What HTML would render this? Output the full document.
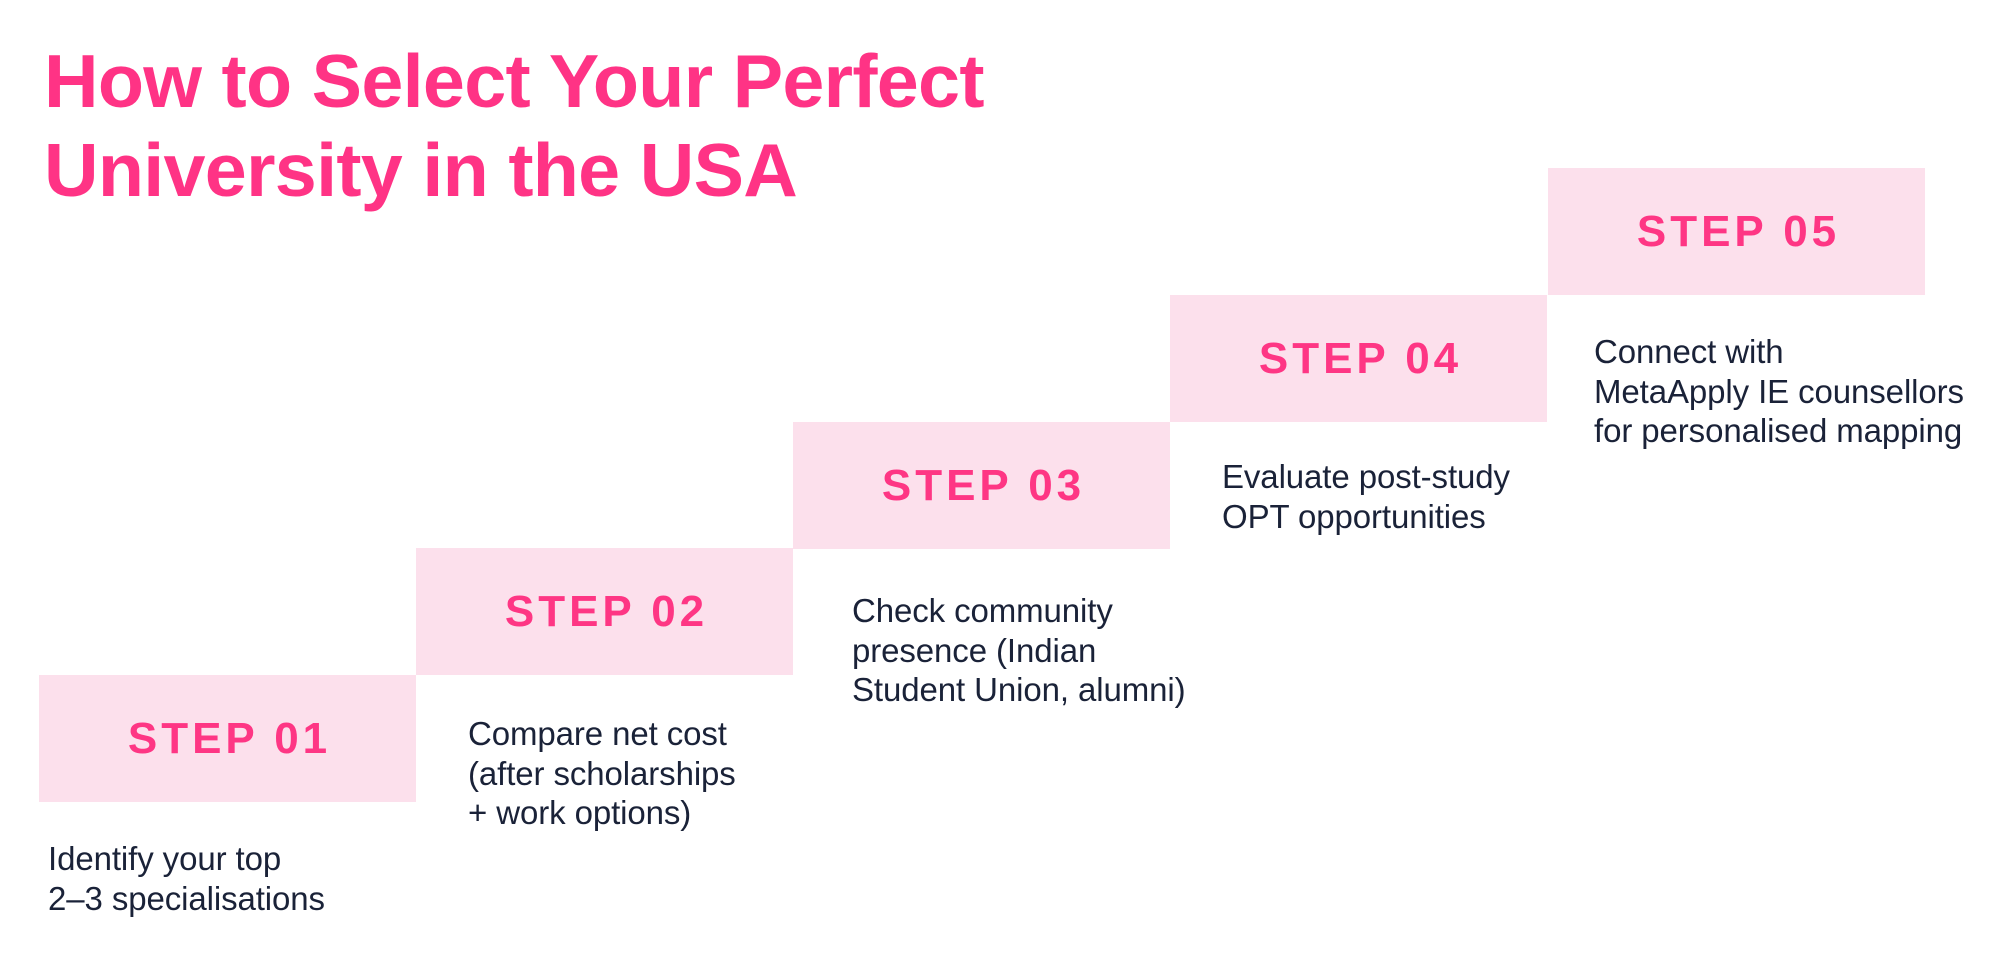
<!DOCTYPE html>
<html><head><meta charset="utf-8"><style>
html,body{margin:0;padding:0;background:#fff;}
body{width:2000px;height:959px;position:relative;overflow:hidden;font-family:"Liberation Sans",Arial,sans-serif;}
.title{position:absolute;left:44px;top:37px;font-size:75.5px;font-weight:bold;color:#ff3385;line-height:89px;letter-spacing:-0.7px;}
.box{position:absolute;width:377px;height:127px;background:#fce0ec;display:flex;align-items:center;justify-content:center;color:#fe3684;font-weight:bold;font-size:44px;letter-spacing:4px;}
.box span{margin-left:4px}
.d{position:absolute;font-size:33px;line-height:39.5px;color:#1a2238;white-space:nowrap;letter-spacing:-0.1px;}
</style></head><body>
<div class="title">How to Select Your Perfect<br>University in the USA</div>

<div class="box" style="left:39px;top:675px"><span>STEP 01</span></div>
<div class="box" style="left:416px;top:548px"><span>STEP 02</span></div>
<div class="box" style="left:793px;top:422px"><span>STEP 03</span></div>
<div class="box" style="left:1170px;top:295px"><span>STEP 04</span></div>
<div class="box" style="left:1548px;top:168px"><span>STEP 05</span></div>

<div class="d" style="left:48px;top:839px">Identify your top<br>2–3 specialisations</div>
<div class="d" style="left:468px;top:714px">Compare net cost<br>(after scholarships<br>+ work options)</div>
<div class="d" style="left:852px;top:591px">Check community<br>presence (Indian<br>Student Union, alumni)</div>
<div class="d" style="left:1222px;top:457px">Evaluate post-study<br>OPT opportunities</div>
<div class="d" style="left:1594px;top:332px">Connect with<br>MetaApply IE counsellors<br>for personalised mapping</div>
</body></html>
